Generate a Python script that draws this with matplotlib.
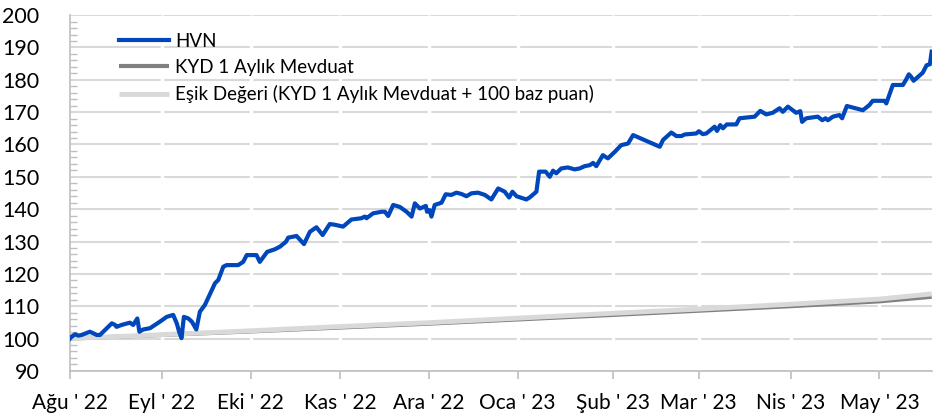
import numpy as np
import matplotlib
matplotlib.use("Agg")
import matplotlib.pyplot as plt
from matplotlib.ticker import MultipleLocator

plt.rcParams['font.family'] = ['Lato', 'DejaVu Sans']

# x is days since 1 Aug 2022
month_pos = [0, 31, 61, 91, 121, 151, 183, 212, 243, 273]
month_labels = ["Ağu ' 22", "Eyl ' 22", "Eki ' 22", "Kas ' 22", "Ara ' 22",
                "Oca ' 23", "Şub ' 23", "Mar ' 23", "Nis ' 23", "May ' 23"]

hvn_day = [0, 0.6, 1.7, 2.8, 3.9, 6.7, 7.9, 9.0, 10.1, 14.1, 15.2, 15.7, 17.4, 20.2,
           21.3, 22.7, 23.4, 24.7, 27.0, 30.3, 32.6, 34.8, 36.0, 36.8, 37.6, 38.4,
           39.9, 41.1, 42.6, 43.8, 45.5, 48.9, 50.0, 51.7, 52.8, 56.7, 58.4, 59.6,
           62.9, 64.0, 66.5, 69.1, 70.8, 72.8, 73.6, 76.4, 78.9, 80.9, 83.1, 85.2,
           87.6, 89.2, 92.1, 94.9, 98.3, 99.4, 100.0, 102.2, 105.1, 106.2, 107.3,
           109.0, 111.2, 113.5, 115.2, 116.3, 118.0, 120.0, 120.4, 121.3, 121.9,
           123.0, 125.3, 126.7, 128.6, 130.3, 132.0, 133.7, 135.4, 137.6, 139.9,
           142.1, 144.4, 146.6, 148.1, 149.2, 150.6, 153.9, 155.0, 157.3, 158.2,
           160.4, 161.8, 162.9, 164.0, 165.7, 167.9, 170.2, 171.9, 173.6, 175.3,
           176.4, 177.5, 179.7, 181.4, 183.7, 185.9, 188.2, 189.9, 198.9, 200.0,
           202.8, 204.5, 206.2, 207.3, 211.2, 212.1, 213.4, 214.6, 217.4, 218.2,
           219.3, 220.2, 221.5, 224.7, 225.8, 230.9, 232.8, 234.8, 237.0, 239.3,
           240.4, 242.1, 244.9, 246.3, 246.9, 248.3, 252.2, 253.7, 254.8, 255.6,
           257.3, 259.5, 260.4, 262.0, 267.4, 269.6, 270.7, 274.7, 275.3, 277.5,
           280.9, 282.0, 282.9, 283.7, 284.5, 287.6, 288.9, 290.0, 290.6]
hvn = [100.0, 100.6, 101.3, 100.9, 101.1, 102.1, 101.6, 101.1, 101.1, 104.7, 104.2,
       103.6, 104.2, 104.9, 104.2, 106.2, 102.1, 102.8, 103.2, 105.2, 106.7, 107.3,
       104.7, 102.1, 100.1, 106.7, 106.2, 105.2, 102.8, 108.3, 110.4, 117.1, 118.1,
       122.2, 122.7, 122.7, 123.7, 125.8, 125.8, 123.7, 126.8, 127.6, 128.4, 129.9,
       131.2, 131.7, 129.2, 133.0, 134.4, 132.0, 135.4, 135.2, 134.6, 136.8, 137.2,
       137.7, 137.2, 138.7, 139.2, 139.2, 137.9, 141.3, 140.7, 139.2, 137.7, 141.8,
       140.2, 141.0, 139.2, 139.7, 137.7, 141.3, 142.0, 144.6, 144.4, 145.1, 144.7,
       144.0, 144.9, 145.1, 144.4, 143.0, 146.4, 145.4, 143.6, 145.4, 144.0, 143.0,
       143.6, 145.4, 151.6, 151.6, 150.0, 151.9, 151.1, 152.6, 152.9, 152.3, 152.6,
       153.3, 153.6, 154.3, 153.3, 156.7, 155.7, 157.7, 159.8, 160.3, 162.9, 159.3,
       161.4, 163.7, 162.6, 162.6, 163.1, 163.4, 164.1, 163.2, 163.4, 165.5, 164.2,
       166.0, 165.0, 166.2, 166.2, 168.1, 168.6, 170.4, 169.3, 169.8, 171.2, 170.1,
       171.7, 169.8, 170.3, 167.0, 168.1, 168.6, 167.5, 168.1, 167.5, 168.6, 169.1,
       168.1, 171.9, 170.6, 172.2, 173.5, 173.5, 172.7, 178.4, 178.4, 180.1, 181.7,
       180.9, 179.7, 182.2, 184.5, 184.8, 188.7]

ref_day = [0, 31, 61, 91, 121, 151, 183, 212, 243, 273, 290.6]
kyd = [100.0, 101.1, 102.2, 103.4, 104.6, 105.9, 107.3, 108.6, 110.0, 111.5, 112.9]
esik = [100.0, 101.2, 102.4, 103.7, 104.9, 106.3, 107.8, 109.1, 110.6, 112.2, 113.8]

fig = plt.figure(figsize=(9.5, 4.2), dpi=100)
ax = fig.add_axes([0.0737, 0.117, 0.907, 0.847])

ax.set_axisbelow(True)
ax.grid(axis='y', color='#d9d9d9', lw=1.5)
ax.vlines(month_pos[1:], 90, 200, color='white', lw=2.5, zorder=1)

ax.plot(ref_day, kyd, color='#808080', lw=3, solid_capstyle='butt', zorder=2,
        label='KYD 1 Aylık Mevduat')
ax.plot(ref_day, esik, color='#d9d9d9', lw=3.5, solid_capstyle='butt', zorder=3,
        label='Eşik Değeri (KYD 1 Aylık Mevduat + 100 baz puan)')
ax.plot(hvn_day, hvn, color='#0047bb', lw=3, zorder=4, label='HVN')

ax.set_xlim(0, 290.6)
ax.set_ylim(90, 200)
ax.yaxis.set_major_locator(MultipleLocator(10))
ax.yaxis.set_minor_locator(MultipleLocator(2))
ax.set_xticks(month_pos)
ax.set_xticklabels(month_labels)

for s in ['top', 'right']:
    ax.spines[s].set_visible(False)
for s in ['left', 'bottom']:
    ax.spines[s].set_color('#bfbfbf')
    ax.spines[s].set_linewidth(1.2)
ax.tick_params(axis='x', direction='out', length=6, color='#bfbfbf', width=1.2,
               labelsize=15, pad=10)
ax.tick_params(axis='y', which='major', length=0, labelsize=15.5, pad=22)
ax.tick_params(axis='y', which='minor', direction='in', length=5, color='#bfbfbf', width=1)

h, l = ax.get_legend_handles_labels()
order = [2, 0, 1]
ax.legend([h[i] for i in order], [l[i] for i in order], loc='upper left',
          bbox_to_anchor=(0.048, 0.972), frameon=False, fontsize=13.5,
          handlelength=2.7, handletextpad=0.3, labelspacing=0.5, borderaxespad=0)

fig.savefig('out.png', dpi=100)
